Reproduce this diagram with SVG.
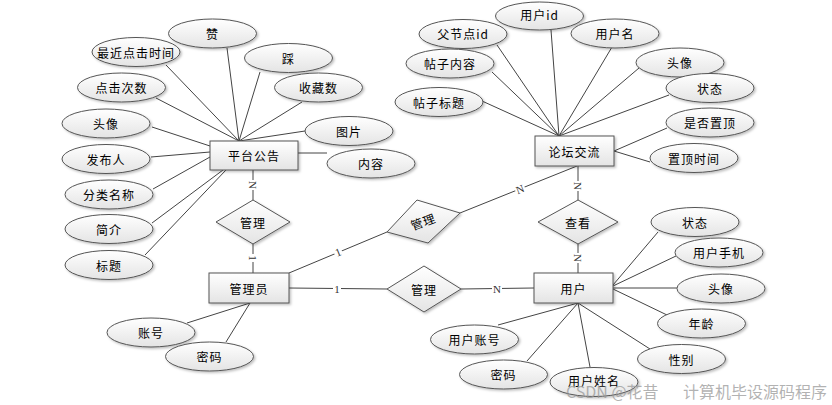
<svg xmlns="http://www.w3.org/2000/svg" width="832" height="405" viewBox="0 0 832 405">
<defs>
<linearGradient id="g" x1="0" y1="0" x2="0" y2="1">
<stop offset="0" stop-color="#ffffff"/>
<stop offset="1" stop-color="#e4e4e4"/>
</linearGradient>
<filter id="sh" x="-20%" y="-20%" width="140%" height="150%">
<feDropShadow dx="1.5" dy="1.5" stdDeviation="1" flood-color="#000" flood-opacity="0.25"/>
</filter>
</defs>
<style>
.e{fill:url(#g);stroke:#555;stroke-width:1;filter:url(#sh)}
.r{fill:url(#g);stroke:#555;stroke-width:1;filter:url(#sh)}
.t{font-family:"Noto Sans CJK SC","Noto Sans",sans-serif;font-size:12px;fill:#000;text-anchor:middle;dominant-baseline:central;letter-spacing:1px}
.c line{stroke:#444;stroke-width:1}
.lb{font-family:"Liberation Serif",serif;font-size:11px;fill:#333;text-anchor:middle;dominant-baseline:central}
.bg{fill:#fff}
.wm{font-family:"Noto Sans CJK SC",sans-serif;font-size:16px;fill:#999;fill-opacity:0.75}
</style>
<rect width="832" height="405" fill="#fff"/>
<g id="connectors" class="c">
<line x1="227" y1="48" x2="239" y2="141"/>
<line x1="166" y1="65" x2="239" y2="141"/>
<line x1="260" y1="72" x2="239" y2="141"/>
<line x1="302" y1="102" x2="239" y2="141"/>
<line x1="156" y1="98" x2="239" y2="141"/>
<line x1="305" y1="131" x2="239" y2="141"/>
<line x1="152" y1="127" x2="210" y2="146"/>
<line x1="151" y1="157" x2="210" y2="152"/>
<line x1="153" y1="189" x2="210" y2="157"/>
<line x1="152" y1="223" x2="223" y2="170"/>
<line x1="145" y1="255" x2="226" y2="170"/>
<line x1="298" y1="153" x2="327" y2="153"/>
<line x1="551" y1="30" x2="559" y2="136"/>
<line x1="497" y1="45" x2="559" y2="136"/>
<line x1="612" y1="47" x2="559" y2="136"/>
<line x1="492" y1="72" x2="559" y2="136"/>
<line x1="639" y1="68" x2="559" y2="136"/>
<line x1="482" y1="101" x2="559" y2="136"/>
<line x1="669" y1="95" x2="559" y2="136"/>
<line x1="614" y1="151" x2="667" y2="128"/>
<line x1="614" y1="151" x2="650" y2="162"/>
<line x1="613" y1="285" x2="658" y2="232"/>
<line x1="613" y1="286" x2="676" y2="256"/>
<line x1="613" y1="288" x2="677" y2="288"/>
<line x1="613" y1="289" x2="667" y2="315"/>
<line x1="578" y1="303" x2="498" y2="325"/>
<line x1="578" y1="303" x2="527" y2="361"/>
<line x1="578" y1="303" x2="590" y2="367"/>
<line x1="578" y1="303" x2="650" y2="349"/>
<line x1="250" y1="303" x2="187" y2="323"/>
<line x1="250" y1="303" x2="226" y2="342"/>
<line x1="253" y1="170" x2="253" y2="200"/>
<line x1="253" y1="244" x2="253" y2="273"/>
<line x1="289" y1="288" x2="387" y2="289"/>
<line x1="461" y1="289" x2="534" y2="288"/>
<line x1="289" y1="273" x2="387" y2="232"/>
<line x1="460" y1="213" x2="577" y2="166"/>
<line x1="578" y1="166" x2="578" y2="200"/>
<line x1="578" y1="244" x2="578" y2="273"/>
</g>
<g id="labels">
<rect class="bg" x="333" y="283" width="8" height="12"/><text class="lb" x="337" y="289">1</text>
<rect class="bg" x="492" y="283" width="10" height="12"/><text class="lb" x="497" y="289">N</text>
<g transform="translate(253,185) rotate(90)"><rect class="bg" x="-5" y="-5" width="10" height="10"/><text class="lb" x="0" y="0">N</text></g>
<g transform="translate(253,258) rotate(90)"><rect class="bg" x="-4" y="-5" width="8" height="10"/><text class="lb" x="0" y="0">1</text></g>
<g transform="translate(578,186) rotate(90)"><rect class="bg" x="-5" y="-5" width="10" height="10"/><text class="lb" x="0" y="0">N</text></g>
<g transform="translate(578,258) rotate(90)"><rect class="bg" x="-5" y="-5" width="10" height="10"/><text class="lb" x="0" y="0">N</text></g>
<g transform="translate(338,252) rotate(-22)"><rect class="bg" x="-4" y="-6" width="8" height="12"/><text class="lb" x="0" y="0">1</text></g>
<g transform="translate(520,189) rotate(-22)"><rect class="bg" x="-5" y="-6" width="10" height="12"/><text class="lb" x="0" y="0">N</text></g>
</g>
<g id="e-ptgg"><rect class="r" x="210" y="141" width="88" height="29"/><text class="t" x="254" y="155.5">平台公告</text></g>
<g id="e-gly"><rect class="r" x="209" y="273" width="80" height="30"/><text class="t" x="249" y="288">管理员</text></g>
<g id="e-ltjl"><rect class="r" x="535" y="136" width="79" height="30"/><text class="t" x="574.5" y="151">论坛交流</text></g>
<g id="e-yh"><rect class="r" x="534" y="273" width="79" height="30"/><text class="t" x="573.5" y="288">用户</text></g>
<g id="r-gl1"><polygon class="r" points="253,200 290,222 253,244 216,222"/><text class="t" x="253" y="222">管理</text></g>
<g id="r-ck"><polygon class="r" points="578,200 618,222 578,244 538,222"/><text class="t" x="578" y="222">查看</text></g>
<g id="r-gl2"><polygon class="r" points="387,289 424,266 461,289 424,312"/><text class="t" x="424" y="289">管理</text></g>
<g id="r-gl3"><polygon class="r" points="387,232 417,200 460,213 428,243"/><text class="t" x="423" y="221" transform="rotate(-20 423 221)">管理</text></g>
<g id="a-zan"><ellipse class="e" cx="212.5" cy="33.5" rx="44" ry="14.5"/><text class="t" x="212.5" y="33.5">赞</text></g>
<g id="a-zjdjsj"><ellipse class="e" cx="136" cy="52" rx="44" ry="14.5"/><text class="t" x="136" y="52">最近点击时间</text></g>
<g id="a-cai"><ellipse class="e" cx="288.5" cy="58" rx="44" ry="14.5"/><text class="t" x="288.5" y="58">踩</text></g>
<g id="a-djcs"><ellipse class="e" cx="121.5" cy="87.5" rx="44" ry="14.5"/><text class="t" x="121.5" y="87.5">点击次数</text></g>
<g id="a-scs"><ellipse class="e" cx="318.5" cy="87.5" rx="44" ry="14.5"/><text class="t" x="318.5" y="87.5">收藏数</text></g>
<g id="a-tx1"><ellipse class="e" cx="106" cy="123.5" rx="44" ry="14.5"/><text class="t" x="106" y="123.5">头像</text></g>
<g id="a-tp"><ellipse class="e" cx="349" cy="131" rx="44" ry="14.5"/><text class="t" x="349" y="131">图片</text></g>
<g id="a-fbr"><ellipse class="e" cx="106" cy="159" rx="44" ry="14.5"/><text class="t" x="106" y="159">发布人</text></g>
<g id="a-flmc"><ellipse class="e" cx="109" cy="194.5" rx="44" ry="14.5"/><text class="t" x="109" y="194.5">分类名称</text></g>
<g id="a-jj"><ellipse class="e" cx="109" cy="229" rx="44" ry="14.5"/><text class="t" x="109" y="229">简介</text></g>
<g id="a-bt"><ellipse class="e" cx="109" cy="265" rx="44" ry="14.5"/><text class="t" x="109" y="265">标题</text></g>
<g id="a-nr"><ellipse class="e" cx="371" cy="163.5" rx="44" ry="14.5"/><text class="t" x="371" y="163.5">内容</text></g>
<g id="a-yhid"><ellipse class="e" cx="539.5" cy="16" rx="44" ry="14"/><text class="t" x="539.5" y="14">用户id</text></g>
<g id="a-fjdid"><ellipse class="e" cx="463" cy="34" rx="44" ry="14.5"/><text class="t" x="463" y="33">父节点id</text></g>
<g id="a-yhm"><ellipse class="e" cx="615" cy="33.5" rx="44" ry="14.5"/><text class="t" x="615" y="33.5">用户名</text></g>
<g id="a-tznr"><ellipse class="e" cx="450" cy="63.5" rx="44" ry="14.5"/><text class="t" x="450" y="63.5">帖子内容</text></g>
<g id="a-tx2"><ellipse class="e" cx="680" cy="62.5" rx="44" ry="14.5"/><text class="t" x="680" y="62.5">头像</text></g>
<g id="a-tzbt"><ellipse class="e" cx="439" cy="102" rx="44" ry="14.5"/><text class="t" x="439" y="102">帖子标题</text></g>
<g id="a-zt1"><ellipse class="e" cx="710" cy="88" rx="44" ry="14.5"/><text class="t" x="710" y="88">状态</text></g>
<g id="a-sfzd"><ellipse class="e" cx="710" cy="122.5" rx="44" ry="14.5"/><text class="t" x="710" y="122.5">是否置顶</text></g>
<g id="a-zdsj"><ellipse class="e" cx="694" cy="158" rx="44" ry="14.5"/><text class="t" x="694" y="158">置顶时间</text></g>
<g id="a-zt2"><ellipse class="e" cx="695" cy="222" rx="44" ry="14.5"/><text class="t" x="695" y="222">状态</text></g>
<g id="a-yhsj"><ellipse class="e" cx="719" cy="252.5" rx="44" ry="14.5"/><text class="t" x="719" y="252.5">用户手机</text></g>
<g id="a-tx3"><ellipse class="e" cx="721" cy="288.5" rx="44" ry="14.5"/><text class="t" x="721" y="288.5">头像</text></g>
<g id="a-nl"><ellipse class="e" cx="701.5" cy="323.5" rx="44" ry="14.5"/><text class="t" x="701.5" y="323.5">年龄</text></g>
<g id="a-xb"><ellipse class="e" cx="681.5" cy="359" rx="44" ry="14.5"/><text class="t" x="681.5" y="359">性别</text></g>
<g id="a-yhzh"><ellipse class="e" cx="474.5" cy="339.5" rx="44" ry="14.5"/><text class="t" x="474.5" y="339.5">用户账号</text></g>
<g id="a-mm2"><ellipse class="e" cx="503.5" cy="374.5" rx="44" ry="14.5"/><text class="t" x="503.5" y="374.5">密码</text></g>
<g id="a-yhxm"><ellipse class="e" cx="594" cy="382" rx="44" ry="14.5"/><text class="t" x="594" y="380">用户姓名</text></g>
<g id="a-zh"><ellipse class="e" cx="151" cy="332.5" rx="44" ry="14.5"/><text class="t" x="151" y="332.5">账号</text></g>
<g id="a-mm1"><ellipse class="e" cx="209.5" cy="356.5" rx="44" ry="14.5"/><text class="t" x="209.5" y="356.5">密码</text></g>
<text class="wm" x="566" y="398">CSDN @花昔</text>
<text class="wm" x="683" y="398" letter-spacing="0">计算机毕设源码程序</text>
</svg>
